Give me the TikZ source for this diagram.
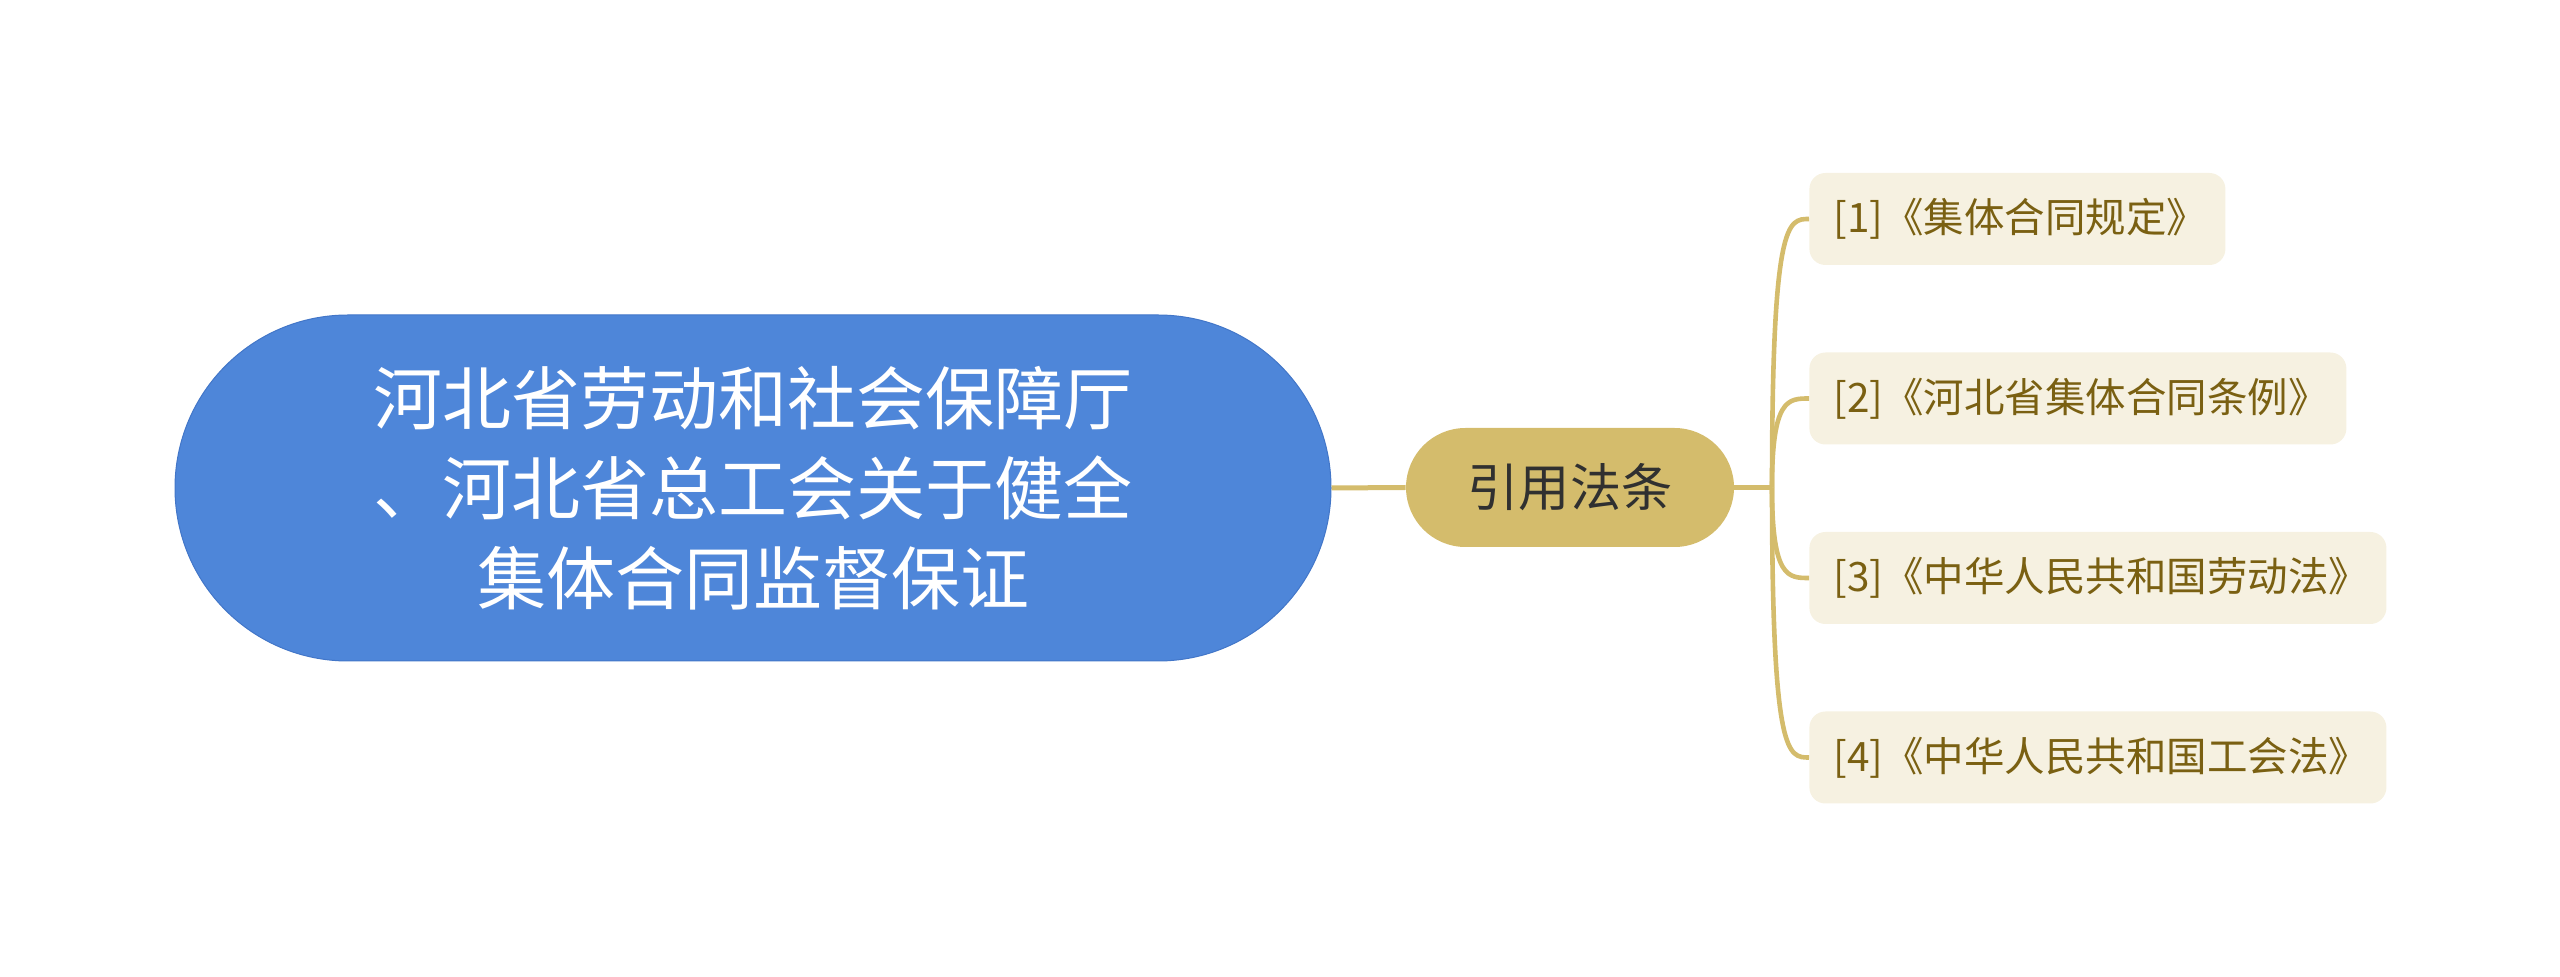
\documentclass[tikz,border=0pt]{standalone}
\usepackage{fontspec}
\setmainfont{Noto Sans CJK SC}
\usetikzlibrary{calc}
\definecolor{mainblue}{RGB}{78,134,217}
\definecolor{mainedge}{RGB}{66,118,200}
\definecolor{gold}{RGB}{212,188,108}
\definecolor{leaffill}{RGB}{246,241,225}
\definecolor{leaftext}{RGB}{122,96,18}
\definecolor{darktext}{RGB}{48,48,48}
\begin{document}
\begin{tikzpicture}[x=0.5pt,y=-0.5pt,
  rootbox/.style={fill=mainblue, draw=mainedge, line width=0.5pt, rounded corners=86.5pt,
    minimum width=578pt, minimum height=173pt, text=white, align=center,
    font=\fontsize{34.5pt}{45pt}\selectfont, inner sep=0pt},
  midbox/.style={fill=gold, rounded corners=29.75pt, minimum width=164pt, minimum height=59.5pt,
    text=darktext, font=\fontsize{25.6pt}{30pt}\selectfont, inner sep=0pt},
  leafbox/.style={fill=leaffill, rounded corners=8pt, minimum height=46pt, text=leaftext,
    font=\fontsize{20.25pt}{24pt}\selectfont, anchor=west, inner xsep=12pt, inner ysep=0pt, align=left},
  link/.style={draw=gold, line width=2.5pt},
  branch/.style={draw=gold, line width=2.3pt}]
\useasboundingbox (0,0) rectangle (2560,977);
\node[rootbox] (root) at (753,488) {河北省劳动和社会保障厅\\、河北省总工会关于健全\\集体合同监督保证};
\node[midbox] (mid) at (1570,487.5) {引用法条};
\node[leafbox, text width=184pt] (l1) at (1809,219) {[1]《集体合同规定》};
\node[leafbox, text width=244.5pt] (l2) at (1809,398.5) {[2]《河北省集体合同条例》};
\node[leafbox, text width=264.5pt] (l3) at (1809,578) {[3]《中华人民共和国劳动法》};
\node[leafbox, text width=264.5pt] (l4) at (1809,757.5) {[4]《中华人民共和国工会法》};
\coordinate (J) at (1772,487.5);
\draw[link] (root.east) -- (mid.west);
\draw[link] (mid.east) -- (J);
\foreach \l in {l1,l2,l3,l4}{
  \draw[branch] (J) .. controls (J |- \l.west) and ($(J |- \l.west)+(16,0)$) .. (\l.west);
}
\end{tikzpicture}
\end{document}
